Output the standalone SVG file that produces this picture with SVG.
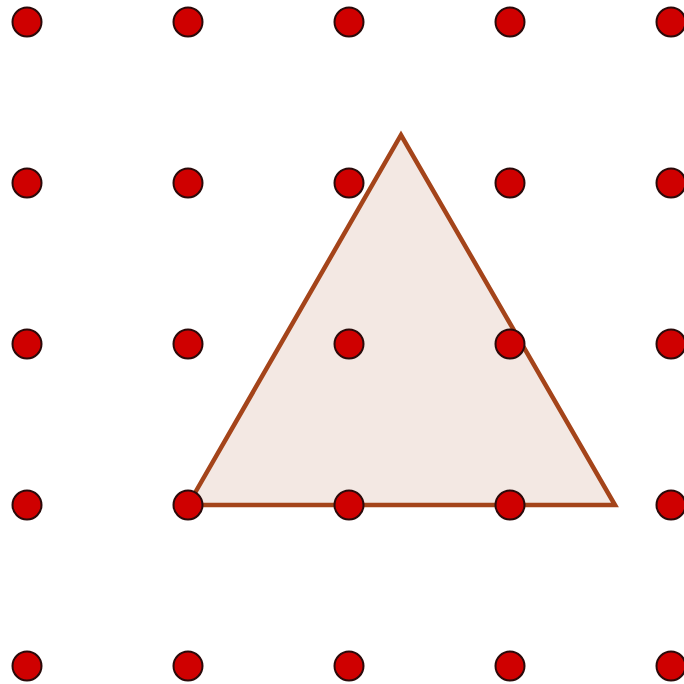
<svg xmlns="http://www.w3.org/2000/svg" width="684" height="684" viewBox="0 0 684 684">
<style>
.dot{fill:#cf0000;stroke:#2a0a0a;stroke-width:2}
.tri{fill:#f3e8e3;stroke:#a4441a;stroke-width:4.5;stroke-linejoin:miter}
</style>
<rect width="684" height="684" fill="#ffffff"/>
<g id="triangle"><polygon class="tri" points="188,505 401,135 615,505"/></g>
<g id="dots">
<circle class="dot" cx="27" cy="22" r="14.5"/><circle class="dot" cx="188" cy="22" r="14.5"/><circle class="dot" cx="349" cy="22" r="14.5"/><circle class="dot" cx="510" cy="22" r="14.5"/><circle class="dot" cx="671" cy="22" r="14.5"/>
<circle class="dot" cx="27" cy="183" r="14.5"/><circle class="dot" cx="188" cy="183" r="14.5"/><circle class="dot" cx="349" cy="183" r="14.5"/><circle class="dot" cx="510" cy="183" r="14.5"/><circle class="dot" cx="671" cy="183" r="14.5"/>
<circle class="dot" cx="27" cy="344" r="14.5"/><circle class="dot" cx="188" cy="344" r="14.5"/><circle class="dot" cx="349" cy="344" r="14.5"/><circle class="dot" cx="510" cy="344" r="14.5"/><circle class="dot" cx="671" cy="344" r="14.5"/>
<circle class="dot" cx="27" cy="505" r="14.5"/><circle class="dot" cx="188" cy="505" r="14.5"/><circle class="dot" cx="349" cy="505" r="14.5"/><circle class="dot" cx="510" cy="505" r="14.5"/><circle class="dot" cx="671" cy="505" r="14.5"/>
<circle class="dot" cx="27" cy="666" r="14.5"/><circle class="dot" cx="188" cy="666" r="14.5"/><circle class="dot" cx="349" cy="666" r="14.5"/><circle class="dot" cx="510" cy="666" r="14.5"/><circle class="dot" cx="671" cy="666" r="14.5"/>
</g>
</svg>
